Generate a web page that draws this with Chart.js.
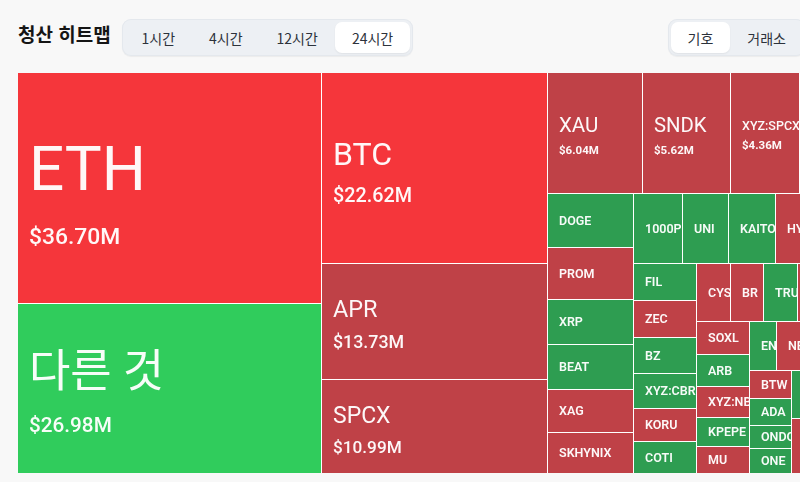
<!DOCTYPE html>
<html lang="ko">
<head>
<meta charset="utf-8">
<title>청산 히트맵</title>
<script src="https://cdn.jsdelivr.net/npm/chart.js@4.4.1/dist/chart.umd.min.js"></script>
<style>
    html, body { margin: 0; padding: 0; overflow: hidden; }
    body { width: 800px; height: 482px; background: #f8f8f8; position: relative; font-family: "Noto Sans CJK KR", "Noto Sans", sans-serif; }
    .title { position: absolute; left: 18px; top: 20px; font-size: 19px; font-weight: 700; color: #151515; white-space: nowrap; }
    .seg { position: absolute; top: 19px; height: 37px; box-sizing: border-box; padding: 3px; display: flex; gap: 1px;
           background: #edf0f4; border-radius: 9px; box-shadow: inset 0 0 0 1px #e4e8ed, 0 1px 1px rgba(0,0,0,0.05); white-space: nowrap; }
    .seg span { display: flex; align-items: center; padding: 0 16.5px; font-size: 14px; color: #2c323b; border-radius: 7px; }
    .seg span.on { background: #fff; box-shadow: 0 1px 2px rgba(0,0,0,0.06); }
    #time { left: 122px; }
    #mode { left: 668px; }
    #wrap { position: absolute; left: 18px; top: 73px; width: 879px; height: 400px; }
</style>
</head>
<body>
<div class="title">청산 히트맵</div>
<div class="seg" id="time"><span>1시간</span><span>4시간</span><span>12시간</span><span class="on">24시간</span></div>
<div class="seg" id="mode"><span class="on">기호</span><span>거래소</span></div>
<div id="wrap"><canvas id="heatmap"></canvas></div>

<script>
// 24시간 청산 금액 (백만 달러), 트리맵 배치 순서대로
const symbols = [
    'ETH', '다른 것', 'BTC', 'APR', 'SPCX',
    'XAU', 'SNDK', 'XYZ:SPCX', 'SOL', 'HOOD',
    'DOGE', 'PROM', 'XRP', 'BEAT', 'XAG', 'SKHYNIX',
    '1000PEPE', 'UNI', 'KAITO', 'HYPE', 'SUI', 'WLD',
    'FIL', 'ZEC', 'BZ', 'XYZ:CBRS', 'KORU', 'COTI',
    'CYS', 'BR', 'TRUMP', 'LINK', 'AVAX', 'PUMP',
    'SOXL', 'ARB', 'XYZ:NBIS', 'KPEPE', 'MU',
    'ENA', 'NEAR', 'LTC', 'TAO', 'WIF',
    'BTW', 'ADA', 'ONDO', 'ONE',
    'ASTER', 'XPL'
];
const amounts = [
    36.70, 26.98, 22.62, 13.73, 10.99,
    6.04, 5.62, 4.36, 3.12, 3.02,
    2.435, 2.345, 2.029, 2.029, 1.925, 1.817,
    1.798, 1.688, 1.724, 1.56, 1.47, 1.43,
    1.22, 1.22, 1.19, 1.155, 1.09, 1.025,
    1.055, 1.012, 1.015, 1.01, 1.005, 1.003,
    0.908, 0.889, 0.861, 0.805, 0.730,
    0.707, 0.78, 0.77, 0.76, 0.753,
    0.634, 0.604, 0.524, 0.528,
    2.63, 2.97
];
// 우세한 청산 방향: long = 롱 청산, short = 숏 청산
const sides = [
    'long', 'short', 'long', 'long', 'long',
    'long', 'long', 'long', 'long', 'long',
    'short', 'long', 'short', 'short', 'long', 'long',
    'short', 'short', 'short', 'long', 'long', 'short',
    'short', 'long', 'short', 'short', 'long', 'short',
    'long', 'long', 'short', 'long', 'short', 'long',
    'long', 'short', 'long', 'short', 'long',
    'short', 'long', 'long', 'short', 'long',
    'long', 'short', 'short', 'short',
    'short', 'long'
];

const PHI = (1 + Math.sqrt(5)) / 2;

// d3 방식 squarify (입력 순서 유지)
function squarify(vals, x0, y0, x1, y1) {
    const rects = [];
    let value = vals.reduce((a, b) => a + b, 0);
    let i0 = 0, i1 = 0;
    const n = vals.length;
    while (i0 < n) {
        const dx = x1 - x0, dy = y1 - y0;
        let sum = vals[i1++];
        let minV = sum, maxV = sum;
        const alpha = Math.max(dy / dx, dx / dy) / (value * PHI);
        let beta = sum * sum * alpha;
        let minRatio = Math.max(maxV / beta, beta / minV);
        for (; i1 < n; ++i1) {
            const v = vals[i1];
            sum += v;
            if (v < minV) minV = v;
            if (v > maxV) maxV = v;
            beta = sum * sum * alpha;
            const r = Math.max(maxV / beta, beta / minV);
            if (r > minRatio) { sum -= v; break; }
            minRatio = r;
        }
        if (dx < dy) {
            const h = i1 >= n ? dy : dy * sum / value;
            let x = x0;
            for (let i = i0; i < i1; i++) {
                const w = dx * vals[i] / sum;
                rects[i] = [x, y0, x + w, y0 + h];
                x += w;
            }
            y0 += h;
        } else {
            const w = i1 >= n ? dx : dx * sum / value;
            let y = y0;
            for (let i = i0; i < i1; i++) {
                const h = dy * vals[i] / sum;
                rects[i] = [x0, y, x0 + w, y + h];
                y += h;
            }
            x0 += w;
        }
        value -= sum;
        i0 = i1;
    }
    return rects;
}

function cellColor(side, v) {
    if (side === 'long') return v >= 20 ? '#f5363b' : '#bf4147';
    return v >= 20 ? '#30cc5c' : '#2e9d51';
}

function lerp(table, v) {
    if (v <= table[0][0]) return table[0][1];
    for (let i = 1; i < table.length; i++) {
        if (v <= table[i][0]) {
            const [a, fa] = table[i - 1], [b, fb] = table[i];
            return fa + (fb - fa) * (v - a) / (b - a);
        }
    }
    return table[table.length - 1][1];
}
const nameSizes = [[5, 20], [11, 23], [14, 23.5], [22.6, 32], [27, 45], [36.7, 62]];
const FONT = 'Roboto, "Noto Sans CJK KR", sans-serif';

const treemapPlugin = {
    id: 'treemapCells',
    afterDatasetsDraw(chart) {
        const { ctx, chartArea, scales: { x, y } } = chart;
        const W = chartArea.width, H = chartArea.height;
        const boxes = squarify(amounts, 0, 0, W, H);

        ctx.save();
        ctx.fillStyle = '#ffffff';
        ctx.fillRect(chartArea.left, chartArea.top, W, H);

        boxes.forEach((b, i) => {
            const v = amounts[i];
            const left = Math.round(x.getPixelForValue(b[0] / W));
            const right = Math.round(x.getPixelForValue(b[2] / W));
            const top = Math.round(y.getPixelForValue(b[1] / H));
            const bottom = Math.round(y.getPixelForValue(b[3] / H));
            const w = right - left - (right < chartArea.right - 1 ? 1 : 0);
            const h = bottom - top - (bottom < chartArea.bottom - 1 ? 1 : 0);

            ctx.fillStyle = cellColor(sides[i], v);
            ctx.fillRect(left, top, w, h);

            // 라벨
            ctx.save();
            ctx.beginPath();
            ctx.rect(left, top, w, h);
            ctx.clip();
            ctx.fillStyle = 'rgba(255,255,255,0.96)';
            ctx.textAlign = 'left';
            ctx.textBaseline = 'alphabetic';

            const tx = left + 11;
            const cy = top + h / 2;
            const ns = v >= 5 ? lerp(nameSizes, v) : 12.5;
            const showValue = w >= 60 && h >= 60;
            const cap = ns * 0.711;

            if (showValue) {
                const vs = v >= 10 ? 17 + (v - 10) * 0.22 : 11.5;
                const gap = ns * 0.45 + vs * 1.15;
                const off = ns * 0.09 + 1;
                const nameBase = cy + off - (cap + gap) / 2 + cap;
                ctx.font = `${ns >= 18 ? 400 : 500} ${ns}px ${FONT}`;
                ctx.fillText(symbols[i], tx, nameBase);
                ctx.font = `${v >= 10 ? 500 : 700} ${vs}px ${FONT}`;
                ctx.fillText('$' + v.toFixed(2) + 'M', tx, nameBase + gap);
            } else {
                ctx.font = `600 ${ns}px ${FONT}`;
                ctx.fillText(symbols[i], tx, cy + cap / 2);
            }
            ctx.restore();
        });
        ctx.restore();
    }
};

new Chart(document.getElementById('heatmap'), {
    type: 'scatter',
    data: { datasets: [{ label: '청산', data: [] }] },
    options: {
        responsive: true,
        maintainAspectRatio: false,
        animation: false,
        layout: { padding: 0 },
        plugins: { legend: { display: false }, tooltip: { enabled: false } },
        scales: {
            x: { type: 'linear', min: 0, max: 1, display: false },
            y: { type: 'linear', min: 0, max: 1, reverse: true, display: false }
        }
    },
    plugins: [treemapPlugin]
});
</script>
</body>
</html>
